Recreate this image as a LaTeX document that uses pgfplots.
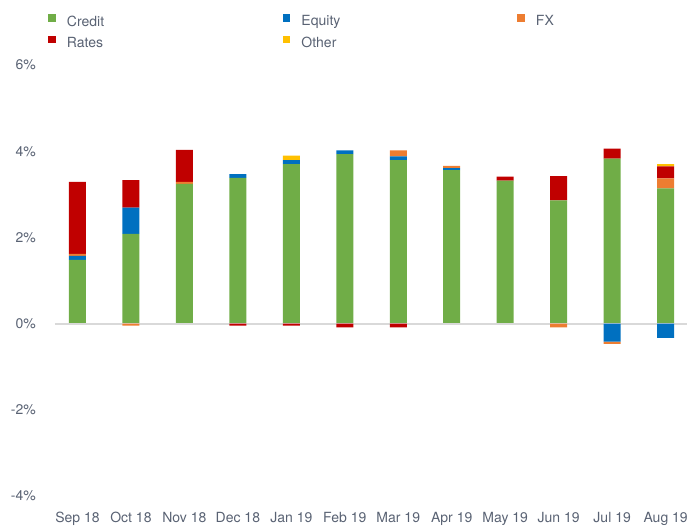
\documentclass[border=0pt]{standalone}
\usepackage{pgfplots}
\usepackage{pgfplotstable}
\pgfplotsset{compat=1.18}
\usepackage{fontspec}
\setmainfont{TeX Gyre Heros}
\definecolor{cCredit}{HTML}{70AD47}
\definecolor{cEquity}{HTML}{0070C0}
\definecolor{cFX}{HTML}{ED7D31}
\definecolor{cRates}{HTML}{C00000}
\definecolor{cOther}{HTML}{FFC000}
\definecolor{txt}{HTML}{596273}
\definecolor{zline}{HTML}{D9D9D9}

\pgfplotstableread{
x pc pe pf pr po ne nf nr
0 1.48 0.09 0.05 1.67 0 0 0 0
1 2.08 0.61 0 0.64 0 0 -0.05 0
2 3.24 0 0.05 0.74 0 0 0 0
3 3.38 0.09 0 0 0 0 0 -0.05
4 3.70 0.09 0 0 0.11 0 0 -0.05
5 3.93 0.09 0 0 0 0 0 -0.09
6 3.79 0.09 0.14 0 0 0 0 -0.09
7 3.56 0.05 0.05 0 0 0 0 0
8 3.32 0 0 0.09 0 0 0 0
9 2.86 0 0 0.56 0 0 -0.09 0
10 3.83 0 0 0.23 0 -0.42 -0.05 0
11 3.14 0 0.23 0.28 0.05 -0.33 0 0
}\data

\pgfplotsset{mybase/.style={
  scale only axis, width=632pt, height=431pt,
  xmin=-0.42, xmax=11.4, ymin=-4, ymax=6,
  at={(55pt,30pt)}, anchor=south west,
  ybar stacked, bar width=17pt,
  every axis plot/.append style={draw=none},
}}

\begin{document}
\fontsize{14pt}{17pt}\selectfont
\begin{tikzpicture}
\useasboundingbox (0,0) rectangle (687pt,526pt);
\begin{axis}[mybase,
  axis line style={draw=none},
  major tick length=0pt,
  xtick={0,...,11},
  xticklabels={Sep 18,Oct 18,Nov 18,Dec 18,Jan 19,Feb 19,Mar 19,Apr 19,May 19,Jun 19,Jul 19,Aug 19},
  ytick={-4,-2,0,2,4,6},
  yticklabels={-4\%,-2\%,0\%,2\%,4\%,6\%},
  /pgf/number format/assume math mode=true,
  tick label style={font=\fontsize{14pt}{17pt}\selectfont, text=txt, inner sep=0pt},
  xticklabel style={anchor=north, yshift=-16pt},
  yticklabel style={anchor=east, xshift=-19pt},
  legend columns=3,
  legend style={at={(-0.0106,1.1180)}, anchor=north west, draw=none, fill=none,
    inner sep=0pt, font=\fontsize{14pt}{17pt}\selectfont, text=txt,
    row sep=7.5pt, nodes={inner sep=0pt},
    /tikz/every odd column/.append style={column sep=11pt}},
  legend image code/.code={\fill[#1] (0pt,0pt) rectangle (7.5pt,7.5pt);},
]
\draw[line width=2pt, color=zline] (axis cs:-0.42,0) -- (axis cs:11.4,0);
\addplot[fill=cCredit] table[x=x,y=pc]{\data};
\addplot[fill=cEquity] table[x=x,y=pe]{\data};
\addplot[fill=cFX] table[x=x,y=pf]{\data};
\addplot[fill=cRates] table[x=x,y=pr]{\data};
\addplot[fill=cOther] table[x=x,y=po]{\data};
\addlegendentry{\makebox[216pt][l]{Credit}}
\addlegendentry{\makebox[216pt][l]{Equity}}
\addlegendentry{\makebox[216pt][l]{FX}}
\addlegendentry{\makebox[216pt][l]{Rates}}
\addlegendentry{\makebox[216pt][l]{Other}}
\end{axis}
\begin{axis}[mybase, hide axis]
\addplot[fill=cEquity] table[x=x,y=ne]{\data};
\addplot[fill=cFX] table[x=x,y=nf]{\data};
\addplot[fill=cRates] table[x=x,y=nr]{\data};
\end{axis}
\end{tikzpicture}
\end{document}
